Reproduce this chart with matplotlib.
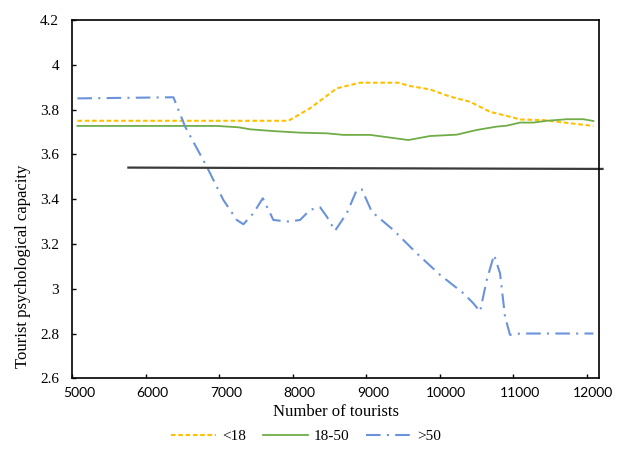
import matplotlib
matplotlib.use("Agg")
import matplotlib.pyplot as plt
import matplotlib.transforms as mtransforms

# --- Data ---
under18_x = [5070, 7940, 8235, 8598, 8915, 9437, 9596, 9868, 10140, 10412,
             10684, 10956, 11092, 11410, 12090]
under18_y = [3.75, 3.75, 3.806, 3.895, 3.92, 3.92, 3.905, 3.89, 3.858, 3.835,
             3.79, 3.768, 3.756, 3.753, 3.727]

mid_x = [5070, 6966, 7260, 7419, 7736, 8099, 8463, 8689, 9052, 9233, 9573,
         9868, 10231, 10503, 10775, 10911, 11092, 11274, 11456, 11728, 11954, 12090]
mid_y = [3.727, 3.727, 3.721, 3.712, 3.704, 3.697, 3.694, 3.687, 3.687, 3.679, 3.664,
         3.682, 3.688, 3.709, 3.724, 3.728, 3.742, 3.742, 3.75, 3.757, 3.757, 3.749]

over50_x = [5070, 6376, 6535, 6830, 7056, 7238, 7328, 7464, 7592, 7736, 7940,
            8099, 8235, 8371, 8463, 8575, 8735, 8870, 8939, 9075, 9369, 9687,
            10004, 10321, 10457, 10548, 10639, 10739, 10820, 10888, 10956, 11092, 12090]
over50_y = [3.85, 3.855, 3.724, 3.545, 3.396, 3.307, 3.288, 3.337, 3.404, 3.307, 3.3,
            3.307, 3.352, 3.364, 3.322, 3.259, 3.337, 3.441, 3.444, 3.344, 3.262, 3.158,
            3.062, 2.98, 2.935, 2.898, 3.039, 3.151, 3.069, 2.875, 2.794, 2.8, 2.8]

ref_x = [5763, 12215]
ref_y = [3.541, 3.535]

x_ticks = [5000, 6000, 7000, 8000, 9000, 10000, 11000, 12000]
y_ticks = [2.6, 2.8, 3.0, 3.2, 3.4, 3.6, 3.8, 4.0, 4.2]
y_labels = ["2.6", "2.8", "3", "3.2", "3.4", "3.6", "3.8", "4", "4.2"]

SERIF = ["Liberation Serif", "DejaVu Serif"]

# --- Plot ---
fig = plt.figure(figsize=(6.19, 4.57), dpi=100)
ax = fig.add_axes([0.1168, 0.1722, 0.8514, 0.7840])

ax.plot(under18_x, under18_y, color="#FFC000", linewidth=1.5,
        dashes=(2.2, 1.3), label="<18")
ax.plot(mid_x, mid_y, color="#70AD47", linewidth=1.3, label="18-50")
ax.plot(over50_x, over50_y, color="#6A93DB", linewidth=1.5,
        dashes=(7, 3, 1, 3), label=">50")
ax.plot(ref_x, ref_y, color="#3a3a3a", linewidth=1.6, clip_on=False)

ax.set_xlim(5000, 12171)
ax.set_ylim(2.6, 4.2)
ax.set_xticks(x_ticks)
ax.set_yticks(y_ticks, labels=y_labels)

ax.tick_params(axis="both", direction="in", length=3, width=1, color="black")
ax.tick_params(axis="x", pad=6, labelsize=10)
ax.tick_params(axis="y", pad=9.5, labelsize=11)
for lab in ax.get_xticklabels():
    lab.set_fontfamily(["Lato", "DejaVu Sans"])
    lab.set_transform(lab.get_transform() +
                      mtransforms.ScaledTranslation(0.065, 0, fig.dpi_scale_trans))
for lab in ax.get_yticklabels():
    lab.set_fontfamily(SERIF)

for sp in ax.spines.values():
    sp.set_linewidth(1.2)
    sp.set_color("black")

ax.set_xlabel("Number of tourists", family=SERIF, fontsize=12, labelpad=4)
ax.set_ylabel("Tourist psychological capacity", family=SERIF, fontsize=12)
ax.yaxis.set_label_coords(-0.079, 0.313)

ax.legend(loc="center", bbox_to_anchor=(306 / 619, 1 - 436 / 457),
          bbox_transform=fig.transFigure, ncol=3, frameon=False,
          prop={"family": SERIF, "size": 11}, handlelength=2.95,
          columnspacing=1.1, handletextpad=0.4)

plt.savefig("out.png", dpi=100)
